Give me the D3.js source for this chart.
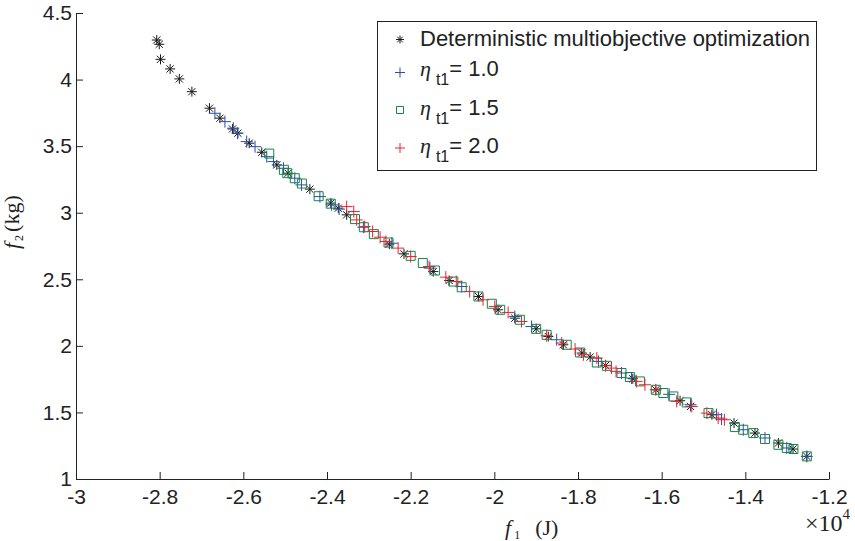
<!DOCTYPE html>
<html>
<head>
<meta charset="utf-8">
<script src="https://cdn.jsdelivr.net/npm/d3@7"></script>
<style>
  body { margin: 0; background: #fff; }
  svg text { fill: #222; }
</style>
</head>
<body>
<div id="chart"></div>
<script>
// DATA ---------------------------------------------------------------------
// f1 in units of 1e4 J, f2 in kg
const detF1 = [-2.807, -2.801, -2.798, -2.775, -2.753, -2.723, -2.681, -2.656, -2.626, -2.613,
  -2.586, -2.556, -2.520, -2.493, -2.441, -2.391, -2.373, -2.353, -2.251, -2.216,
  -2.146, -2.108, -2.038, -1.991, -1.951, -1.900, -1.871, -1.835, -1.791, -1.771,
  -1.734, -1.669, -1.614, -1.556, -1.531, -1.480, -1.427, -1.377, -1.321, -1.286, -1.253];
const detF2 = [4.297, 4.265, 4.152, 4.080, 4.005, 3.909, 3.785, 3.710, 3.629, 3.597,
  3.522, 3.454, 3.359, 3.297, 3.177, 3.072, 3.034, 2.984, 2.764, 2.691,
  2.558, 2.491, 2.371, 2.271, 2.208, 2.128, 2.070, 2.008, 1.946, 1.916,
  1.853, 1.753, 1.670, 1.588, 1.545, 1.483, 1.420, 1.345, 1.270, 1.225, 1.170];

const eta10F1 = [-2.668, -2.644, -2.624, -2.614, -2.592, -2.572, -2.544, -2.528, -2.504, -2.477,
  -2.461, -2.417, -2.389, -2.371, -2.313, -2.245, -2.154, -2.078, -1.951, -1.911,
  -1.851, -1.751, -1.696, -1.672, -1.582, -1.531, -1.469, -1.457, -1.405, -1.353, -1.301, -1.253];
const eta10F2 = [3.747, 3.684, 3.635, 3.597, 3.534, 3.496, 3.421, 3.384, 3.334, 3.259,
  3.209, 3.121, 3.059, 3.027, 2.891, 2.771, 2.584, 2.446, 2.220, 2.145,
  2.046, 1.883, 1.796, 1.758, 1.636, 1.558, 1.483, 1.450, 1.370, 1.308, 1.233, 1.170];

const eta15F1 = [-2.538, -2.503, -2.495, -2.477, -2.460, -2.420, -2.391, -2.333, -2.312, -2.288,
  -2.253, -2.200, -2.171, -2.142, -2.098, -2.078, -2.038, -2.006, -1.986, -1.939,
  -1.900, -1.875, -1.827, -1.795, -1.755, -1.731, -1.696, -1.676, -1.652, -1.614,
  -1.596, -1.572, -1.540, -1.488, -1.425, -1.405, -1.381, -1.353, -1.321, -1.301, -1.285, -1.253];
const eta15F2 = [3.444, 3.322, 3.297, 3.259, 3.219, 3.124, 3.068, 2.952, 2.891, 2.839,
  2.776, 2.676, 2.622, 2.566, 2.483, 2.440, 2.371, 2.316, 2.271, 2.196,
  2.128, 2.083, 2.008, 1.950, 1.875, 1.850, 1.796, 1.766, 1.733, 1.670,
  1.646, 1.620, 1.575, 1.495, 1.390, 1.370, 1.345, 1.300, 1.257, 1.233, 1.225, 1.170];

const eta20F1 = [-2.353, -2.336, -2.329, -2.310, -2.291, -2.273, -2.259, -2.230, -2.200, -2.156,
  -2.116, -2.091, -2.059, -2.027, -1.999, -1.967, -1.935, -1.875, -1.839, -1.807,
  -1.787, -1.755, -1.734, -1.720, -1.709, -1.660, -1.640, -1.614, -1.564, -1.528,
  -1.492, -1.465, -1.450];
const eta20F2 = [3.046, 3.009, 2.946, 2.896, 2.859, 2.816, 2.784, 2.734, 2.671, 2.596,
  2.516, 2.483, 2.408, 2.346, 2.296, 2.251, 2.183, 2.076, 2.021, 1.976,
  1.933, 1.908, 1.851, 1.833, 1.808, 1.733, 1.708, 1.670, 1.583, 1.545,
  1.495, 1.458, 1.445];

const xTicks = [-3, -2.8, -2.6, -2.4, -2.2, -2, -1.8, -1.6, -1.4, -1.2];
const xTickLabels = ['-3', '-2.8', '-2.6', '-2.4', '-2.2', '-2', '-1.8', '-1.6', '-1.4', '-1.2'];
const yTicks = [1, 1.5, 2, 2.5, 3, 3.5, 4, 4.5];
const yTickLabels = ['1', '1.5', '2', '2.5', '3', '3.5', '4', '4.5'];

const legendValues = ['1.0', '1.5', '2.0'];

// CHART --------------------------------------------------------------------
const width = 855, height = 541;
const plot = {left: 76, right: 829, top: 13, bottom: 479};

const svg = d3.select('#chart')
  .append('svg')
  .attr('width', width)
  .attr('height', height);

const xScale = d3.scaleLinear().domain([-3, -1.2]).range([plot.left, plot.right]);
const yScale = d3.scaleLinear().domain([1, 4.5]).range([plot.bottom, plot.top]);

const xAxis = d3.axisBottom(xScale)
  .tickValues(xTicks)
  .tickFormat((d, i) => xTickLabels[i])
  .tickSizeInner(-7)
  .tickSizeOuter(0)
  .tickPadding(10);

const yAxis = d3.axisLeft(yScale)
  .tickValues(yTicks)
  .tickFormat((d, i) => yTickLabels[i])
  .tickSizeInner(-7)
  .tickSizeOuter(0)
  .tickPadding(4);

function styleAxis(g) {
  g.selectAll('path, line').attr('stroke', '#222').attr('stroke-width', 1);
  g.selectAll('text')
    .attr('font-family', '"Liberation Sans", Arial, sans-serif')
    .attr('font-size', 21)
    .attr('fill', '#222');
}

svg.append('g')
  .attr('class', 'axis x-axis')
  .attr('transform', 'translate(0,' + plot.bottom + ')')
  .call(xAxis)
  .call(styleAxis);

svg.append('g')
  .attr('class', 'axis y-axis')
  .attr('transform', 'translate(' + plot.left + ',0)')
  .call(yAxis)
  .call(styleAxis);

// markers
const asteriskPath = 'M-5,0H5M0,-5V5M-3.6,-3.6L3.6,3.6M-3.6,3.6L3.6,-3.6';
const plusPath = 'M-6,0H6M0,-6V6';
const squarePath = 'M-4.5,-4.5H4.5V4.5H-4.5Z';

const series = [
  {f1: detF1, f2: detF2, path: asteriskPath, color: '#1a1a1a'},
  {f1: eta10F1, f2: eta10F2, path: plusPath, color: '#2b4ea6'},
  {f1: eta15F1, f2: eta15F2, path: squarePath, color: '#17844b'},
  {f1: eta20F1, f2: eta20F2, path: plusPath, color: '#ec2230'}
];

series.forEach(s => {
  const pts = s.f1.map((x, i) => ({x: x, y: s.f2[i]}));
  svg.append('g')
    .selectAll('path')
    .data(pts)
    .join('path')
    .attr('transform', d => 'translate(' + xScale(d.x) + ',' + yScale(d.y) + ')')
    .attr('d', s.path)
    .attr('fill', 'none')
    .attr('stroke', s.color)
    .attr('stroke-width', 1);
});

// axis titles
const serif = '"Liberation Serif", "Times New Roman", serif';

const xTitle = svg.append('text')
  .attr('x', 505)
  .attr('y', 535)
  .attr('font-family', serif)
  .attr('font-size', 22);
xTitle.append('tspan').attr('font-style', 'italic').text('f');
xTitle.append('tspan').attr('font-size', 12).attr('dx', 3).attr('dy', 4).text('1');
xTitle.append('tspan').attr('dx', 15).attr('dy', -4).text('(J)');

const yTitle = svg.append('text')
  .attr('transform', 'translate(19,249) rotate(-90)')
  .attr('font-family', serif)
  .attr('font-size', 22);
yTitle.append('tspan').attr('font-style', 'italic').text('f');
yTitle.append('tspan').attr('font-size', 12).attr('dx', 2).attr('dy', 4).text('2');
yTitle.append('tspan').attr('dx', 3).attr('dy', -4).text('(kg)');

const expo = svg.append('text')
  .attr('x', 805)
  .attr('y', 531)
  .attr('font-family', serif)
  .attr('font-size', 24);
expo.append('tspan').text('\u00d710');
expo.append('tspan').attr('font-size', 15).attr('dy', -12).text('4');

// legend
const legend = svg.append('g').attr('class', 'legend');
legend.append('rect')
  .attr('x', 377.5).attr('y', 21.5)
  .attr('width', 439).attr('height', 149)
  .attr('fill', '#fff')
  .attr('stroke', '#222')
  .attr('stroke-width', 1);

const legendRows = [
  {y: 39.5, base: 45.5, path: 'M-4,0H4M0,-4V4M-2.8,-2.8L2.8,2.8M-2.8,2.8L2.8,-2.8', color: '#1a1a1a'},
  {y: 72.5, base: 76, path: 'M-5,0H5M0,-5V5', color: '#2b4ea6'},
  {y: 110, base: 114.5, path: 'M-3.5,-3.5H3.5V3.5H-3.5Z', color: '#17844b'},
  {y: 148, base: 153, path: 'M-5,0H5M0,-5V5', color: '#ec2230'}
];

legendRows.forEach((r, i) => {
  legend.append('path')
    .attr('transform', 'translate(400,' + r.y + ')')
    .attr('d', r.path)
    .attr('fill', 'none')
    .attr('stroke', r.color)
    .attr('stroke-width', 1);

  const t = legend.append('text')
    .attr('x', 420)
    .attr('y', r.base)
    .attr('font-family', '"Liberation Sans", Arial, sans-serif')
    .attr('font-size', 22);
  if (i === 0) {
    t.text('Deterministic multiobjective optimization');
  } else {
    t.append('tspan').attr('font-family', serif).attr('font-style', 'italic').text('\u03b7');
    t.append('tspan').attr('font-size', 16).attr('dx', 5).attr('dy', 9).text('t1');
    t.append('tspan').attr('dy', -9).text('= ' + legendValues[i - 1]);
  }
});
</script>
</body>
</html>
